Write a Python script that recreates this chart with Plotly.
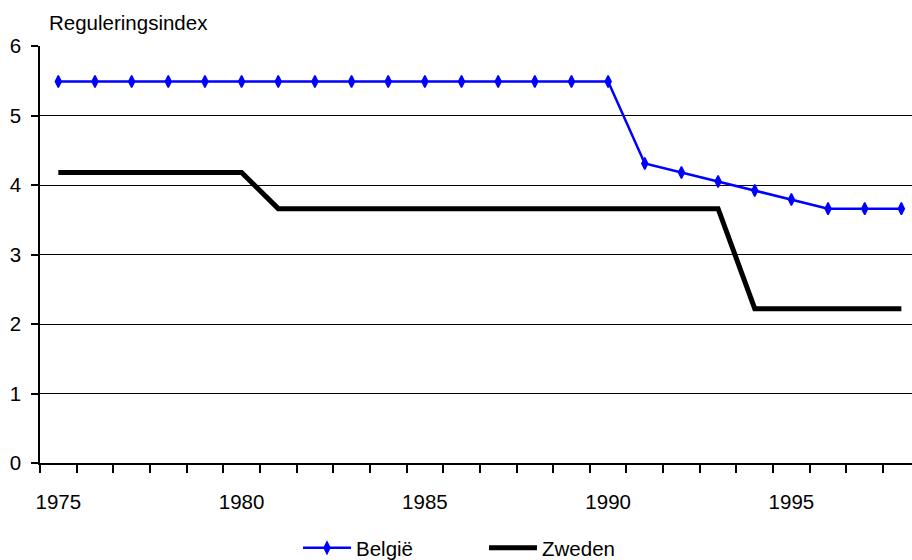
import plotly.graph_objects as go

# Years on the x axis
years = list(range(1975, 1999))

# Regulation index per year
belgie = [5.49] * 16 + [4.31, 4.18, 4.05, 3.92, 3.79, 3.66, 3.66, 3.66]
zweden = [4.18] * 6 + [3.66] * 13 + [2.22] * 5

# Axis labels
x_labels = [1975, 1980, 1985, 1990, 1995]
y_ticks = [0, 1, 2, 3, 4, 5, 6]

FONT = "Liberation Sans, Arial, Helvetica, sans-serif"
FS = 20.5

fig = go.Figure()
fig.add_trace(go.Scatter(
    x=years, y=belgie, name="België", mode="lines+markers",
    line=dict(color="#0000FF", width=2.5),
    marker=dict(symbol="diamond-tall", size=8.5, color="#0000FF",
                line=dict(color="#0000FF", width=1.5)),
))
fig.add_trace(go.Scatter(
    x=years, y=zweden, name="Zweden", mode="lines",
    line=dict(color="#000000", width=5),
))

fig.update_layout(
    width=912, height=560,
    margin=dict(l=40, r=0, t=46, b=97, autoexpand=False),
    paper_bgcolor="white", plot_bgcolor="white",
    font=dict(family=FONT, size=FS, color="black"),
    showlegend=True,
    legend=dict(
        orientation="h", x=(298 - 40) / 872, y=-(97 + 8) / 417,
        xanchor="left", yanchor="bottom",
        font=dict(size=FS), itemwidth=48, entrywidth=123,
        bgcolor="rgba(0,0,0,0)",
    ),
    xaxis=dict(
        range=[1974.5, 1998.29],
        tickmode="array", tickvals=x_labels, ticktext=[str(v) for v in x_labels],
        ticks="", showgrid=False, zeroline=False,
        showline=True, linecolor="black", linewidth=1.5,
        ticklabelstandoff=20,
        minor=dict(tickmode="array", tickvals=[y - 0.5 for y in years],
                   ticks="outside", ticklen=8, tickcolor="black", tickwidth=1.5,
                   showgrid=False),
    ),
    yaxis=dict(
        range=[0, 6], tickmode="array", tickvals=y_ticks,
        ticks="outside", ticklen=7, tickcolor="black", tickwidth=1.5,
        showgrid=True, gridcolor="black", gridwidth=1,
        zeroline=False, showline=True, linecolor="black", linewidth=1.5,
        ticklabelstandoff=6,
    ),
    annotations=[dict(
        text="Reguleringsindex", xref="paper", yref="paper",
        x=(47 - 40) / 872, y=1 + (46 - 23) / 417,
        xanchor="left", yanchor="middle", showarrow=False,
        font=dict(size=FS, family=FONT),
    )],
)

fig.write_html("out.html")
